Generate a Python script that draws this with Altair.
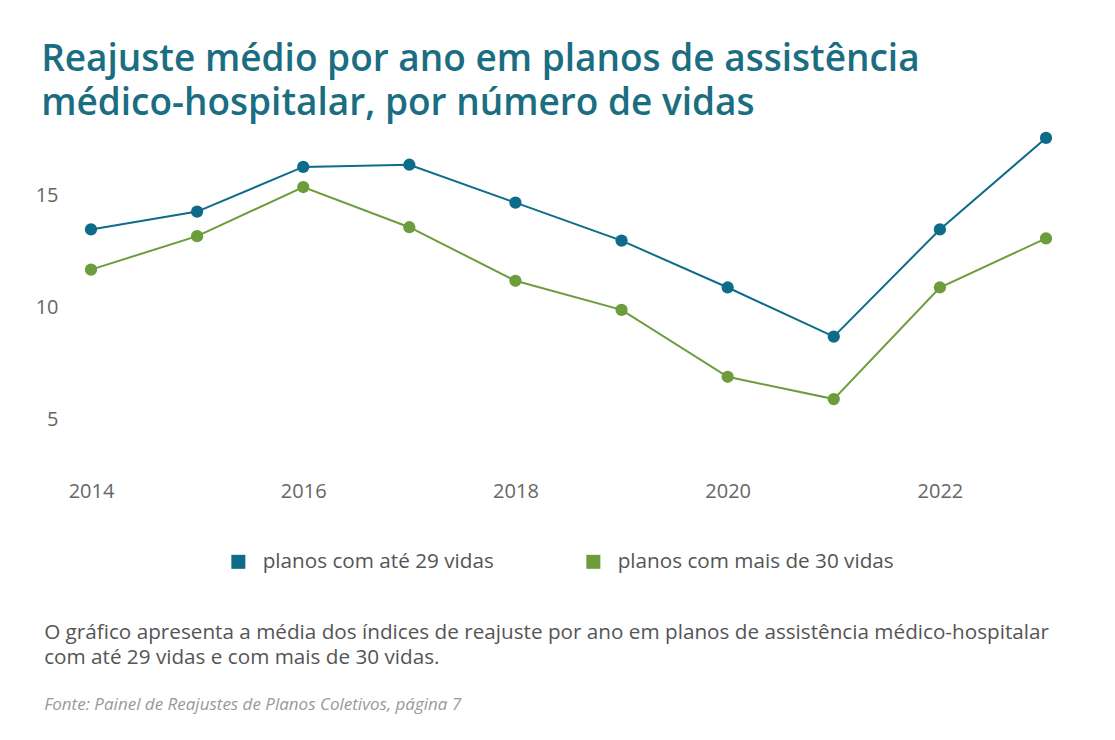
import altair as alt
import pandas as pd

anos = [2014, 2015, 2016, 2017, 2018, 2019, 2020, 2021, 2022, 2023]
ate_29 = [13.5, 14.3, 16.3, 16.4, 14.7, 13.0, 10.9, 8.7, 13.5, 17.6]
mais_30 = [11.7, 13.2, 15.4, 13.6, 11.2, 9.9, 6.9, 5.9, 10.9, 13.1]
series = ["planos com até 29 vidas", "planos com mais de 30 vidas"]
cores = ["#0f6b8a", "#6c9c3b"]
x_ticks = [2014, 2016, 2018, 2020, 2022]
y_ticks = [5, 10, 15]

titulo = ["Reajuste médio por ano em planos de assistência",
          "médico-hospitalar, por número de vidas"]
legenda_texto = ["O gráfico apresenta a média dos índices de reajuste por ano em planos de assistência médico-hospitalar",
                 "com até 29 vidas e com mais de 30 vidas."]
fonte = "Fonte: Painel de Reajustes de Planos Coletivos, página 7"

rows = []
for a, v in zip(anos, ate_29):
    rows.append({"ano": a, "valor": v, "serie": series[0]})
for a, v in zip(anos, mais_30):
    rows.append({"ano": a, "valor": v, "serie": series[1]})
df = pd.DataFrame(rows)

FONT = "Open Sans"

x = alt.X("ano:Q", scale=alt.Scale(domain=[2014, 2023], nice=False, zero=False),
          axis=alt.Axis(values=x_ticks, format="d", title=None, grid=False, domain=False,
                        ticks=False, tickSize=0, labelPadding=6, labelFontSize=20,
                        labelFlush=False, labelColor="#666666", labelFont=FONT))
y = alt.Y("valor:Q", scale=alt.Scale(domain=[2.5, 18], nice=False, zero=False),
          axis=alt.Axis(values=y_ticks, title=None, grid=False, domain=False,
                        ticks=False, tickSize=0, labelPadding=33, labelFontSize=20,
                        labelColor="#666666", labelFont=FONT))

leg = alt.Legend(title=None, orient="none", legendX=137, legendY=422,
                 direction="horizontal", symbolType="square",
                 symbolSize=196, symbolStrokeWidth=0, symbolOpacity=1,
                 labelFontSize=20.7, labelColor="#555555", labelFont=FONT,
                 labelLimit=0, labelOffset=14, columnPadding=89)
cor = alt.Color("serie:N", scale=alt.Scale(domain=series, range=cores), legend=leg)

linhas = alt.Chart(df).mark_line(strokeWidth=2).encode(x=x, y=y, color=cor)
pontos = alt.Chart(df).mark_circle(size=150, opacity=1).encode(x=x, y=y, color=cor)

inner = alt.layer(linhas, pontos).properties(
    width=955, height=346,
    title=alt.TitleParams(text=legenda_texto, subtitle=fonte, orient="bottom", anchor="start",
                          frame="bounds", offset=122, fontSize=20.7, font=FONT,
                          fontWeight="normal", color="#555555", lineHeight=25,
                          subtitleFont=FONT, subtitleFontSize=17, subtitleFontStyle="italic",
                          subtitleColor="#999999", subtitlePadding=28, dx=9),
)

chart = alt.vconcat(inner).properties(
    title=alt.TitleParams(text=titulo, anchor="start", frame="bounds", fontSize=37,
                          font=FONT, fontWeight=600, color="#1b6d82", lineHeight=44,
                          offset=6, dx=6),
    padding={"left": 27, "top": 33, "right": 10, "bottom": 10},
).configure(background="white").configure_view(strokeWidth=0)

chart.save("out.html", embed_options={"renderer": "svg", "actions": False})
